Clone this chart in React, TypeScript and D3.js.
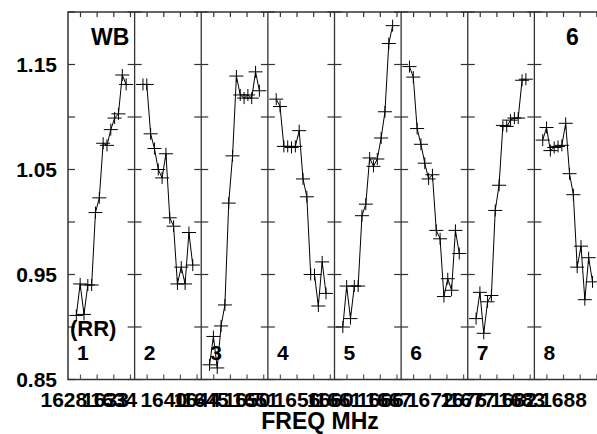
import React from "react";
import * as d3 from "d3";

const W = 597;
const H = 434;

// IF panels (8 IFs), 14 channels each
const ifLabels = ["1", "2", "3", "4", "5", "6", "7", "8"];
const ifStartMHz = [1628.5, 1636.5, 1644.5, 1652.5, 1660.5, 1668.5, 1676.5, 1684.5];
const chanOffsetMHz = [1.0, 1.46, 1.92, 2.38, 2.84, 3.3, 3.76, 4.22, 4.68, 5.14, 5.6, 6.06, 6.52, 6.98];

const if1 = [0.911, 0.941, 0.912, 0.940, 0.940, 1.009, 1.023, 1.075, 1.073, 1.088, 1.099, 1.103, 1.140, 1.131];
const if2 = [1.131, 1.131, 1.084, 1.070, 1.050, 1.042, 1.065, 1.004, 0.996, 0.941, 0.957, 0.941, 0.990, 0.959];
const if3 = [0.864, 0.891, 0.861, 0.901, 0.921, 1.018, 1.063, 1.139, 1.121, 1.118, 1.121, 1.118, 1.143, 1.125];
const if4 = [1.117, 1.110, 1.072, 1.072, 1.071, 1.072, 1.087, 1.041, 1.024, 0.950, 0.950, 0.920, 0.962, 0.932];
const if5 = [0.900, 0.939, 0.908, 0.939, 0.939, 1.006, 1.017, 1.061, 1.053, 1.060, 1.080, 1.105, 1.170, 1.187];
const if6 = [1.148, 1.138, 1.089, 1.074, 1.056, 1.041, 1.045, 0.992, 0.984, 0.929, 0.946, 0.935, 0.992, 0.970];
const if7 = [0.908, 0.933, 0.894, 0.924, 0.930, 1.011, 1.035, 1.092, 1.091, 1.097, 1.099, 1.099, 1.135, 1.136];
const if8 = [1.078, 1.090, 1.068, 1.071, 1.072, 1.073, 1.094, 1.046, 1.026, 0.957, 0.977, 0.926, 0.966, 0.943];
const series = [if1, if2, if3, if4, if5, if6, if7, if8];

const yTicksMajor = [0.85, 0.95, 1.05, 1.15];
const yTicksAll = [0.85, 0.9, 0.95, 1.0, 1.05, 1.1, 1.15, 1.2];
const xTickMHz = [1630, 1632, 1634, 1636, 1638, 1640, 1642, 1644, 1646, 1648, 1650, 1652, 1654, 1656, 1658, 1660, 1662, 1664, 1666, 1668, 1670, 1672, 1674, 1676, 1678, 1680, 1682, 1684, 1686, 1688, 1690, 1692];
const xLabelMHz = [1628, 1633, 1634, 1640, 1644, 1645, 1650, 1651, 1656, 1660, 1661, 1666, 1667, 1672, 1676, 1677, 1682, 1683, 1688];

const FONT = "'Liberation Sans', Arial, sans-serif";

export default function App() {
  const left = 68;
  const right = 601;
  const top = 12;
  const bottom = 379.5;
  const x = d3.scaleLinear().domain([1628.5, 1692.5]).range([left, right]);
  const y = d3.scaleLinear().domain([0.85, 1.2]).range([bottom, top]);
  const line = d3
    .line<[number, number]>()
    .x((d) => x(d[0]))
    .y((d) => y(d[1]));

  const dividers = ifStartMHz.slice(1);

  return (
    <svg
      width={W}
      height={H}
      style={{ position: "absolute", left: 0, top: 0, background: "#fff" }}
      fontFamily={FONT}
    >
      <rect x={0} y={0} width={W} height={H} fill="#fff" />
      <rect x={left} y={top} width={right - left} height={bottom - top} fill="none" stroke="#333" strokeWidth={1.5} />
      {dividers.map((f, i) => (
        <line key={"d" + i} x1={x(f)} x2={x(f)} y1={top} y2={bottom} stroke="#333" strokeWidth={1.3} />
      ))}
      {[ifStartMHz[0], ...dividers].map((f, i) =>
        yTicksAll.map((v, j) => (
          <line
            key={"yt" + i + "-" + j}
            x1={i === 0 ? x(f) : x(f) - 7}
            x2={x(f) + 7}
            y1={y(v)}
            y2={y(v)}
            stroke="#333"
            strokeWidth={1.2}
          />
        ))
      )}
      {xTickMHz.map((f, i) => (
        <g key={"xt" + i}>
          <line x1={x(f)} x2={x(f)} y1={top} y2={top + 5} stroke="#333" strokeWidth={1.2} />
          <line x1={x(f)} x2={x(f)} y1={bottom} y2={bottom - 5} stroke="#555" strokeWidth={1.2} />
        </g>
      ))}
      {series.map((vals, p) => {
        const pts: [number, number][] = vals.map((v, k) => [ifStartMHz[p] + chanOffsetMHz[k], v]);
        return (
          <g key={"s" + p}>
            <path d={line(pts) || ""} fill="none" stroke="#000" strokeWidth={1} />
            {pts.map((d, k) => (
              <g key={k}>
                <line x1={x(d[0]) - 7} x2={x(d[0]) + 7} y1={y(d[1])} y2={y(d[1])} stroke="#000" strokeWidth={1} />
                <line x1={x(d[0])} x2={x(d[0])} y1={y(d[1]) - 6} y2={y(d[1]) + 6} stroke="#000" strokeWidth={1} />
              </g>
            ))}
            <text x={x(ifStartMHz[p]) + 9} y={360} fontSize={21} fontWeight="bold" fill="#000">
              {ifLabels[p]}
            </text>
          </g>
        );
      })}
      {yTicksMajor.map((v, i) => (
        <text key={"yl" + i} x={57} y={y(v) + 7.5} textAnchor="end" fontSize={21} fontWeight="bold" fill="#000">
          {v.toFixed(2)}
        </text>
      ))}
      {xLabelMHz.map((f, i) => (
        <text key={"xl" + i} x={x(f)} y={407} textAnchor="middle" fontSize={21} fontWeight="bold" fill="#000">
          {f}
        </text>
      ))}
      <text x={320} y={429} textAnchor="middle" fontSize={23} fontWeight="bold" fill="#000">
        FREQ MHz
      </text>
      <text x={91} y={45} fontSize={23} fontWeight="bold" fill="#000">
        WB
      </text>
      <text x={566} y={45} fontSize={23} fontWeight="bold" fill="#000">
        6
      </text>
      <text x={70} y={336} fontSize={22} fontWeight="bold" fill="#000">
        (RR)
      </text>
    </svg>
  );
}
